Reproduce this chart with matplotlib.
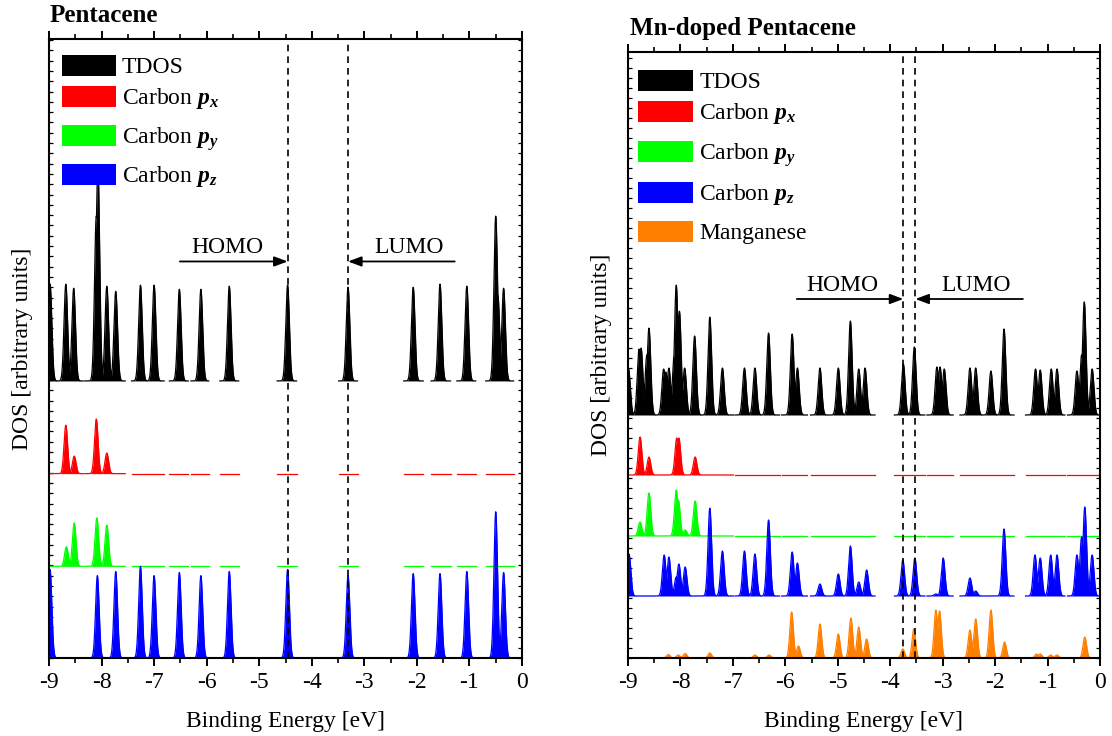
import matplotlib

matplotlib.use("Agg")
import matplotlib.pyplot as plt
import numpy as np
from matplotlib.patches import Rectangle
from matplotlib.ticker import MultipleLocator

plt.rcParams["font.family"] = ["Liberation Serif", "DejaVu Serif"]
plt.rcParams["mathtext.fontset"] = "custom"
plt.rcParams["mathtext.rm"] = "Liberation Serif"
plt.rcParams["mathtext.it"] = "Liberation Serif:italic"
plt.rcParams["mathtext.bf"] = "Liberation Serif:bold"
plt.rcParams["mathtext.bfit"] = "Liberation Serif:italic:bold"

FS = 17
W, H = 1112, 736

# ---------------- Pentacene (left) ----------------
# energy windows where the curves were computed (baseline segments)
pen_windows = [(-9.0, -8.35), (-8.32, -7.55), (-7.43, -6.81), (-6.71, -6.35),
               (-6.30, -5.96), (-5.75, -5.39), (-4.66, -4.29), (-3.49, -3.13),
               (-2.25, -1.88), (-1.73, -1.36), (-1.24, -0.88), (-0.69, -0.16)]

pen_tdos_e = [-8.98, -8.68, -8.53, -8.10, -8.07, -7.90, -7.73, -7.26, -7.00,
              -6.52, -6.11, -5.57, -4.46, -3.31, -2.07, -1.56, -1.05, -0.50,
              -0.46, -0.35]
pen_tdos_h = [9.4, 9.4, 9.0, 16.0, 21.0, 9.2, 8.7, 9.3, 9.3,
              8.9, 8.9, 9.2, 9.3, 9.1, 9.1, 9.4, 9.2, 16.0,
              8.4, 9.0]

pen_px_e = [-8.68, -8.52, -8.10, -7.90]
pen_px_h = [4.7, 1.7, 5.3, 2.0]

pen_py_e = [-8.67, -8.52, -8.09, -7.90]
pen_py_h = [1.9, 4.2, 4.7, 4.0]

pen_pz_e = [-8.98, -8.08, -7.73, -7.26, -7.00, -6.52, -6.11, -5.57, -4.46,
            -3.31, -2.07, -1.56, -1.05, -0.50, -0.35]
pen_pz_h = [8.6, 8.0, 8.4, 8.9, 8.0, 8.3, 8.0, 8.4, 8.6,
            8.0, 8.2, 8.2, 8.4, 14.2, 8.3]

pen_homo, pen_lumo = -4.46, -3.31

# ---------------- Mn-doped Pentacene (right) ----------------
mn_windows = [(-9.0, -6.99), (-6.96, -6.11), (-6.07, -5.58), (-5.52, -4.29),
              (-3.92, -3.34), (-3.30, -2.80), (-2.67, -1.64), (-1.42, -0.67),
              (-0.62, 0.0)]

mn_tdos_e = [-8.99, -8.79, -8.75, -8.64, -8.60, -8.32, -8.28, -8.22, -8.12,
             -8.08, -8.02, -7.92, -7.73, -7.44, -7.20, -6.78, -6.58, -6.32,
             -5.87, -5.77, -5.34, -4.99, -4.76, -4.60, -4.48, -3.75, -3.54,
             -3.11, -3.05, -2.97, -2.48, -2.37, -2.08, -1.83, -1.23, -1.14,
             -0.93, -0.82, -0.44, -0.35, -0.30, -0.15]
mn_tdos_h = [4.6, 6.6, 6.7, 6.0, 8.7, 4.6, 4.3, 4.7, 6.0,
             13.0, 10.4, 4.7, 7.9, 9.8, 4.7, 4.7, 4.7, 8.2,
             8.1, 4.7, 4.7, 4.7, 9.4, 4.6, 4.7, 5.1, 6.8,
             4.8, 4.8, 4.6, 4.7, 4.7, 4.4, 8.6, 4.6, 4.5,
             4.6, 4.6, 4.4, 6.0, 11.3, 4.6]

mn_px_e = [-8.77, -8.60, -8.07, -8.03, -7.72]
mn_px_h = [3.8, 1.8, 3.7, 3.7, 1.8]

mn_py_e = [-8.77, -8.60, -8.08, -8.04, -7.91, -7.72]
mn_py_h = [1.4, 4.3, 4.6, 3.6, 0.6, 3.5]

mn_pz_e = [-8.98, -8.31, -8.22, -8.08, -8.03, -7.91, -7.44, -7.20, -6.78,
           -6.58, -6.32, -5.87, -5.77, -5.34, -4.99, -4.76, -4.60, -4.45,
           -3.76, -3.53, -3.13, -2.99, -2.48, -2.37, -1.83, -1.24, -1.14,
           -0.94, -0.82, -0.44, -0.35, -0.29, -0.15]
mn_pz_h = [4.2, 4.1, 3.9, 1.9, 3.2, 2.9, 8.8, 4.5, 4.5,
           4.2, 7.6, 4.4, 3.3, 1.2, 2.2, 5.0, 1.4, 2.6,
           3.6, 3.8, 0.2, 3.8, 1.8, 0.5, 6.7, 4.1, 3.8,
           4.1, 4.1, 4.1, 5.9, 8.9, 4.1]

mn_mn_e = [-8.23, -8.04, -7.91, -7.44, -6.58, -6.31, -5.88, -5.75, -5.34,
           -4.99, -4.75, -4.60, -4.45, -3.76, -3.55, -3.13, -3.06, -2.48,
           -2.37, -2.08, -1.82, -1.21, -1.14, -0.94, -0.82, -0.29]
mn_mn_h = [0.35, 0.3, 0.45, 0.5, 0.3, 0.3, 4.6, 1.2, 3.4,
           2.4, 4.0, 3.1, 1.9, 0.9, 2.9, 4.8, 4.7, 2.8,
           3.9, 4.8, 1.6, 0.4, 0.4, 0.3, 0.3, 2.1]

mn_homo, mn_lumo = -3.75, -3.52

labels_c = ["TDOS", r"Carbon $\mathbfit{p}_\mathbfit{x}$",
            r"Carbon $\mathbfit{p}_\mathbfit{y}$",
            r"Carbon $\mathbfit{p}_\mathbfit{z}$", "Manganese"]
colors = ["black", "#ff0000", "#00ff00", "#0000ff", "#ff8000"]

SIGMA = 0.034  # peak broadening (eV), drawing only


def draw_dos(ax, windows, energies, heights, offset, color):
    energies = np.asarray(energies)
    heights = np.asarray(heights)
    for a, b in windows:
        x = np.linspace(a, b, 400)
        y = np.zeros_like(x)
        sel = (energies > a - 0.1) & (energies < b + 0.1)
        for e, h in zip(energies[sel], heights[sel]):
            y = np.maximum(y, h * np.exp(-(x - e) ** 2 / (2 * SIGMA ** 2)))
        ax.fill_between(x, offset, offset + y, color=color, lw=0, zorder=2)
        ax.plot(x, offset + y, color=color, lw=0.9, zorder=2)


def style_axes(ax, ytop):
    ax.set_xlim(-9, 0)
    ax.set_ylim(0, ytop)
    ax.xaxis.set_major_locator(MultipleLocator(1))
    ax.xaxis.set_minor_locator(MultipleLocator(0.5))
    ax.yaxis.set_major_locator(MultipleLocator(1))
    ax.set_yticklabels([])
    ax.tick_params(axis="x", which="major", direction="out", length=6,
                   width=1.4, labelsize=FS, pad=4)
    ax.tick_params(axis="x", which="minor", direction="out", length=3.5,
                   width=1.2)
    ax.tick_params(axis="y", which="major", direction="in", length=3,
                   width=0.9, left=True, right=True)
    ax.tick_params(axis="x", which="both", top=True)
    for s in ax.spines.values():
        s.set_linewidth(1.5)
    ax.set_xticklabels([f"{int(v)}" if v != 0 else "0"
                        for v in ax.get_xticks()])
    ax.set_xlabel("Binding Energy [eV]", fontsize=FS, labelpad=13)
    ax.set_ylabel("DOS [arbitrary units]", fontsize=FS, labelpad=8)


def homo_lumo(ax, homo, lumo, homo_start, lumo_start, y, homo_txt_x, lumo_txt_x, dy):
    ax.axvline(homo, color="k", ls=(0, (4, 3)), lw=1.2, zorder=3)
    ax.axvline(lumo, color="k", ls=(0, (4, 3)), lw=1.2, zorder=3)
    arrow = dict(arrowstyle="-|>,head_length=0.8,head_width=0.3", color="k",
                 lw=1.3, shrinkA=0, shrinkB=0)
    ax.annotate("", xy=(homo, y), xytext=(homo_start, y), arrowprops=arrow)
    ax.annotate("", xy=(lumo, y), xytext=(lumo_start, y), arrowprops=arrow)
    ax.text(homo_txt_x, y + dy, "HOMO", fontsize=FS, ha="center", va="center")
    ax.text(lumo_txt_x, y + dy, "LUMO", fontsize=FS, ha="center", va="center")


def key(ax, box, patch_x, text_x, rows, n):
    # box = (left, top, width, height) of the axes in pixels
    left, top, w, h = box
    for lab, col, yc in zip(labels_c[:n], colors[:n], rows):
        ax.add_patch(Rectangle(((patch_x[0] - left) / w, (top + h - yc - 10.5) / h),
                               (patch_x[1] - patch_x[0]) / w, 21 / h,
                               transform=ax.transAxes, facecolor=col,
                               edgecolor="none", zorder=5))
        ax.text((text_x - left) / w, (top + h - yc - 7.8) / h, lab,
                transform=ax.transAxes, fontsize=FS, va="baseline",
                ha="left", zorder=5)


fig = plt.figure(figsize=(W / 100, H / 100), dpi=100)
box1 = (49, 39, 473, 619)
box2 = (628, 52, 472, 606)
ax1 = fig.add_axes([box1[0] / W, 1 - (box1[1] + box1[3]) / H, box1[2] / W, box1[3] / H])
ax2 = fig.add_axes([box2[0] / W, 1 - (box2[1] + box2[3]) / H, box2[2] / W, box2[3] / H])

# left panel
draw_dos(ax1, pen_windows, pen_tdos_e, pen_tdos_h, 26.9, "black")
draw_dos(ax1, pen_windows, pen_px_e, pen_px_h, 17.9, "#ff0000")
draw_dos(ax1, pen_windows, pen_py_e, pen_py_h, 8.9, "#00ff00")
draw_dos(ax1, pen_windows, pen_pz_e, pen_pz_h, 0.0, "#0000ff")
style_axes(ax1, 60.1)
homo_lumo(ax1, pen_homo, pen_lumo, -6.51, -1.28, 38.5, -5.61, -2.14, 1.4)
key(ax1, box1, (62, 115.7), 122, [65.5, 96.2, 135.5, 174.5], 4)

# right panel
draw_dos(ax2, mn_windows, mn_tdos_e, mn_tdos_h, 24.3, "black")
draw_dos(ax2, mn_windows, mn_px_e, mn_px_h, 18.3, "#ff0000")
draw_dos(ax2, mn_windows, mn_py_e, mn_py_h, 12.2, "#00ff00")
draw_dos(ax2, mn_windows, mn_pz_e, mn_pz_h, 6.2, "#0000ff")
draw_dos(ax2, mn_windows, mn_mn_e, mn_mn_h, 0.0, "#ff8000")
style_axes(ax2, 60.6)
homo_lumo(ax2, mn_homo, mn_lumo, -5.78, -1.47, 35.9, -4.92, -2.36, 1.4)
key(ax2, box2, (638.3, 692.7), 699.3, [80.5, 111.2, 151.8, 192.3, 231.5], 5)

fig.text(50 / W, 1 - 15 / H, "Pentacene", fontsize=18,
         fontweight="bold", va="center", ha="left")
fig.text(630 / W, 1 - 29 / H, "Mn-doped Pentacene", fontsize=18,
         fontweight="bold", va="center", ha="left")

fig.savefig("out.png", dpi=100)
